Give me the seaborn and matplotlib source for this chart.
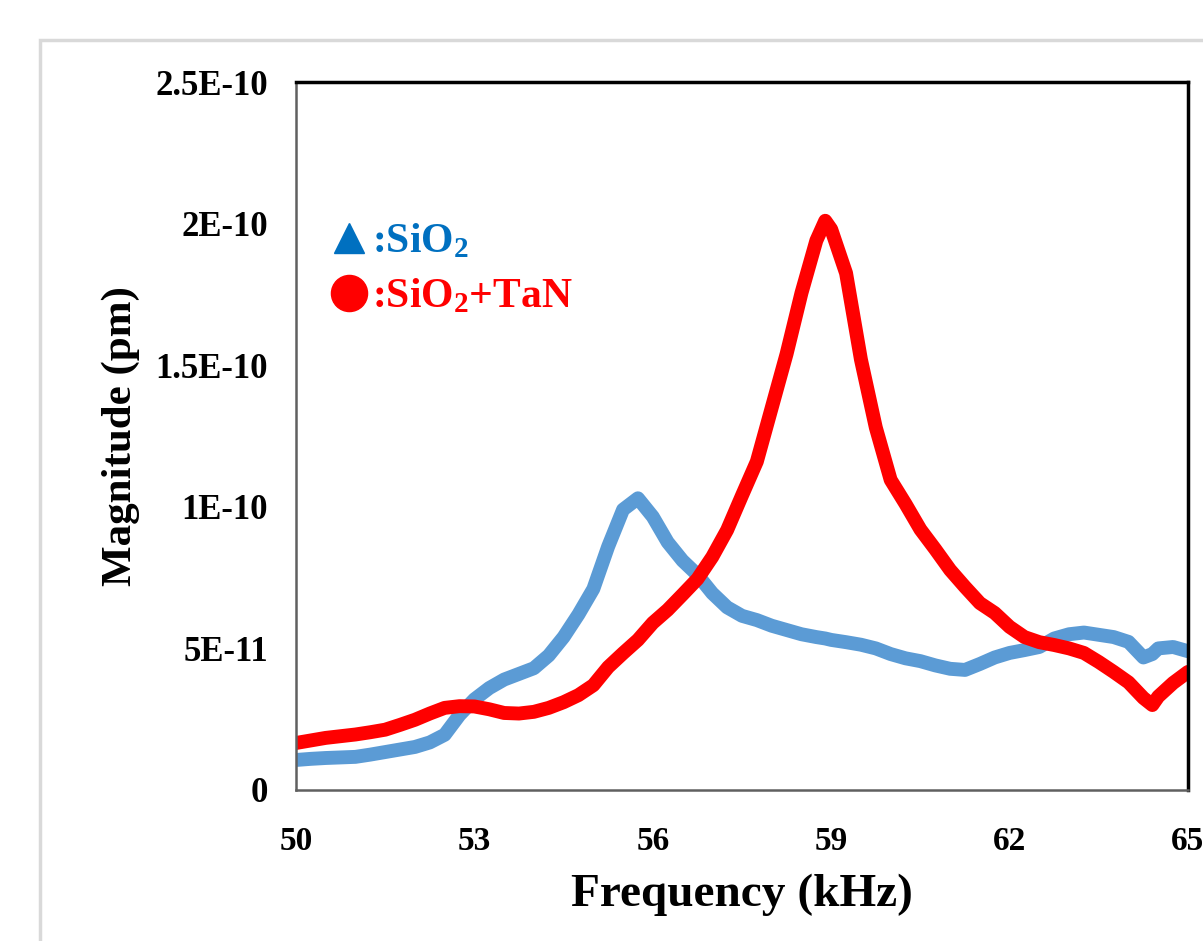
import numpy as np
import pandas as pd
import matplotlib
matplotlib.use("Agg")
import matplotlib.pyplot as plt
import seaborn as sns
from matplotlib.lines import Line2D
from matplotlib.patches import Rectangle

# frequency axis (kHz) and magnitudes (units of 1E-10 pm)
freq_khz = [50, 50.25, 50.5, 50.75, 51, 51.25, 51.5, 51.75, 52, 52.25,
            52.5, 52.75, 53, 53.25, 53.5, 53.75, 54, 54.25, 54.5, 54.75,
            55, 55.25, 55.5, 55.75, 56, 56.25, 56.5, 56.75, 57, 57.25,
            57.5, 57.75, 58, 58.25, 58.5, 58.75, 58.9, 59, 59.25, 59.5,
            59.75, 60, 60.25, 60.5, 60.75, 61, 61.25, 61.5, 61.75, 62,
            62.25, 62.5, 62.75, 63, 63.25, 63.5, 63.75, 64, 64.25, 64.4,
            64.5, 64.75, 65]

sio2_mag = [0.106, 0.110, 0.113, 0.115, 0.117, 0.125, 0.134, 0.143, 0.152, 0.168,
            0.195, 0.265, 0.320, 0.360, 0.390, 0.410, 0.430, 0.475, 0.540, 0.620,
            0.710, 0.860, 0.990, 1.030, 0.965, 0.875, 0.810, 0.760, 0.695, 0.645,
            0.615, 0.600, 0.580, 0.565, 0.550, 0.540, 0.535, 0.530, 0.522, 0.513,
            0.500, 0.480, 0.465, 0.455, 0.440, 0.428, 0.424, 0.445, 0.468, 0.484,
            0.494, 0.505, 0.535, 0.550, 0.556, 0.548, 0.540, 0.523, 0.468, 0.480,
            0.500, 0.505, 0.490]

sio2_tan_mag = [0.166, 0.175, 0.184, 0.190, 0.196, 0.204, 0.213, 0.230, 0.248, 0.270,
                0.290, 0.296, 0.295, 0.285, 0.272, 0.270, 0.276, 0.290, 0.310, 0.335,
                0.370, 0.434, 0.483, 0.530, 0.590, 0.636, 0.690, 0.745, 0.823, 0.918,
                1.040, 1.160, 1.350, 1.540, 1.755, 1.940, 2.010, 1.980, 1.825, 1.520,
                1.280, 1.095, 1.010, 0.920, 0.850, 0.777, 0.717, 0.660, 0.625, 0.576,
                0.540, 0.522, 0.512, 0.500, 0.484, 0.452, 0.417, 0.380, 0.325, 0.300,
                0.330, 0.378, 0.417]

x_ticks = [50, 53, 56, 59, 62, 65]
y_ticks = [0, 5e-11, 1e-10, 1.5e-10, 2e-10, 2.5e-10]
y_tick_labels = ["0", "5E-11", "1E-10", "1.5E-10", "2E-10", "2.5E-10"]

COR_SIO2 = "#5B9BD5"
COR_TAN = "#FF0000"


def main():
    df = pd.DataFrame({
        "freq": freq_khz * 2,
        "mag": np.array(sio2_mag + sio2_tan_mag) * 1e-10,
        "amostra": ["SiO2"] * len(freq_khz) + ["SiO2+TaN"] * len(freq_khz),
    })

    sns.set_theme(style="white")
    plt.rcParams["font.family"] = ["Liberation Serif", "DejaVu Sans"]
    plt.rcParams["font.weight"] = "bold"
    plt.rcParams["mathtext.default"] = "regular"
    for chave in ["text.color", "axes.labelcolor", "xtick.color", "ytick.color"]:
        plt.rcParams[chave] = "black"

    fig = plt.figure(figsize=(12.03, 9.41), dpi=100)
    ax = fig.add_axes([296 / 1203, 1 - 790 / 941, 892 / 1203, 708 / 941])

    # moldura cinza clara da figura
    fig.patches.append(Rectangle((40 / 1203, -0.2), 1.2, (941 - 40) / 941 + 0.2,
                                 transform=fig.transFigure, fill=False,
                                 edgecolor="#D9D9D9", linewidth=2.5))

    sns.lineplot(data=df, x="freq", y="mag", hue="amostra",
                 palette={"SiO2": COR_SIO2, "SiO2+TaN": COR_TAN},
                 linewidth=10, ax=ax, legend=False, sort=False)

    ax.set_xlim(50, 65)
    ax.set_ylim(0, 2.5e-10)
    ax.set_xticks(x_ticks)
    ax.set_xticklabels([str(t) for t in x_ticks], fontsize=24, fontweight="bold")
    ax.set_yticks(y_ticks)
    ax.set_yticklabels(y_tick_labels, fontsize=25, fontweight="bold")
    ax.tick_params(axis="x", length=0, pad=26)
    ax.tick_params(axis="y", length=0, pad=20)

    ax.set_xlabel("Frequency (kHz)", fontsize=34, fontweight="bold")
    ax.set_ylabel("Magnitude (pm)", fontsize=31, fontweight="bold")
    ax.xaxis.set_label_coords(0.5, -0.118)
    ax.yaxis.set_label_coords(-0.175, 0.5)

    for lado in ["top", "right"]:
        ax.spines[lado].set_color("black")
        ax.spines[lado].set_linewidth(2.5)
    for lado in ["left", "bottom"]:
        ax.spines[lado].set_color("#606060")
        ax.spines[lado].set_linewidth(1.8)

    handles = [
        Line2D([], [], linestyle="none", marker="^", markersize=22,
               color="#0070C0", label=":SiO$_2$"),
        Line2D([], [], linestyle="none", marker="o", markersize=26,
               color=COR_TAN, label=":SiO$_2$+TaN"),
    ]
    leg = ax.legend(handles=handles, loc="upper left", bbox_to_anchor=(0.022, 0.825),
                    frameon=False, handlelength=0.8, handletextpad=0.15,
                    labelspacing=0.4, prop={"size": 30, "weight": "bold"},
                    borderaxespad=0)
    for texto, cor in zip(leg.get_texts(), ["#0070C0", COR_TAN]):
        texto.set_color(cor)

    fig.savefig("out.png", dpi=100)


if __name__ == "__main__":
    main()
